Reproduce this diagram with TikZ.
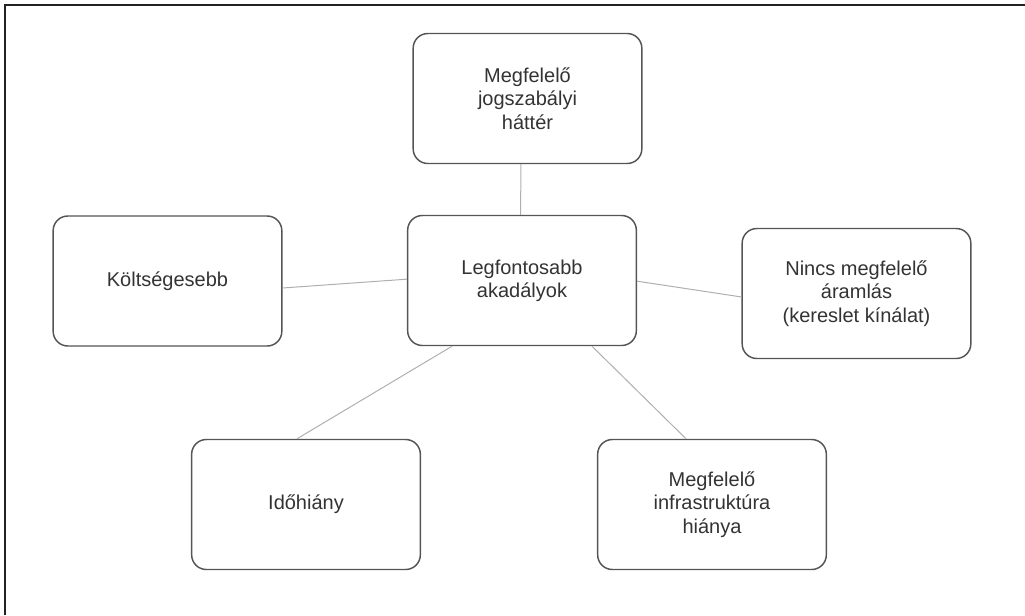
\documentclass[tikz,border=0pt]{standalone}
\usepackage{fontspec}
\setmainfont{Liberation Sans}

\begin{document}
\begin{tikzpicture}[x=0.75pt,y=-0.75pt,%
  box/.style={draw={rgb,255:red,85;green,85;blue,85}, line width=1.1pt, rounded corners=11pt,%
    minimum width=171.5pt, minimum height=97.5pt, align=center,%
    text={rgb,255:red,51;green,51;blue,51}, font=\fontsize{15.000000}{17.500000}\selectfont},%
  link/.style={draw={rgb,255:red,175;green,175;blue,175}, line width=0.75pt}]%
\useasboundingbox (0,0) rectangle (1025,615);%
\draw[line width=1.5pt, draw={rgb,255:red,34;green,34;blue,34}] (5,615) -- (5,5) -- (1025,5);%
\node[box] (jogsz) at (527.5, 98.5) {Megfelelő\\jogszabályi\\háttér};%
\node[box] (akad) at (522.0, 280.5) {Legfontosabb\\akadályok};%
\node[box] (kolts) at (167.5, 281.0) {Költségesebb};%
\node[box] (aram) at (856.5, 293.5) {Nincs megfelelő\\áramlás\\(kereslet kínálat)};%
\node[box] (idohi) at (306.0, 504.5) {Időhiány};%
\node[box] (infra) at (712.0, 504.5) {Megfelelő\\infrastruktúra\\hiánya};%
\draw[link] ([xshift=-5pt]jogsz.south) -- ([xshift=-1pt]akad.north);%
\draw[link] ([yshift=-5.25pt]kolts.east) -- ([yshift=1pt]akad.west);%
\draw[link] ([yshift=-0.5pt]akad.east) -- ([yshift=-2.6pt]aram.west);%
\draw[link] ([xshift=-52.5pt]akad.south) -- ([xshift=-6.75pt]idohi.north);%
\draw[link] ([xshift=52.5pt]akad.south) -- ([xshift=-19.5pt]infra.north);%
\end{tikzpicture}
\end{document}
